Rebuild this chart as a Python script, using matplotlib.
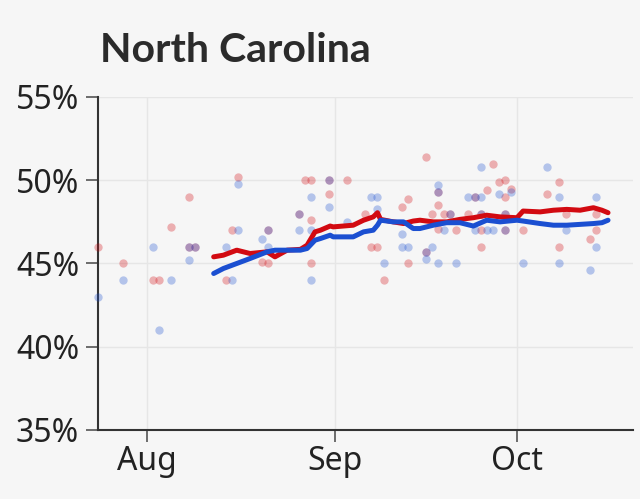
import matplotlib
matplotlib.use("Agg")
import matplotlib.pyplot as plt
import numpy as np

# days are offsets from 1 Aug
title = "North Carolina"
month_ticks = [0, 31, 61]
month_labels = ["Aug", "Sep", "Oct"]
y_ticks = [35, 40, 45, 50, 55]

red_poll_days = [-8, -4, 1, 2, 4, 7, 7, 8, 13, 14, 15, 19, 20, 20, 25, 26, 27, 27, 27,
                 30, 30, 33, 36, 37, 38, 39, 42, 43, 43, 46, 46, 47, 48, 48, 48, 49, 50,
                 51, 53, 54, 55, 55, 55, 56, 57, 58, 59, 59, 59, 59, 60, 62, 66, 68, 68,
                 69, 73, 74, 74]
red_poll_vals = [46, 45, 44, 44, 47.2, 49, 46, 46, 44, 47, 50.2, 45.1, 45, 47, 48, 50, 50, 47.6, 45,
                 50, 49.2, 50, 48, 46, 46, 44, 48.4, 48.9, 45, 51.4, 45.7, 48, 49.3, 48.5, 47.1, 48, 48,
                 47, 48, 49, 48, 47, 46, 49.4, 51, 49.9, 50, 49, 48, 47, 49.5, 47, 49.2, 49.9, 46,
                 48, 46.5, 48, 47]

blue_poll_days = [-8, -4, 1, 2, 4, 7, 7, 8, 13, 14, 15, 15, 19, 20, 20, 25, 25, 27, 27, 27,
                  30, 30, 33, 37, 38, 38, 39, 42, 42, 43, 46, 46, 47, 48, 48, 48, 49, 50, 51,
                  53, 54, 54, 55, 55, 55, 56, 57, 58, 59, 59, 60, 62, 66, 68, 68, 69, 73, 74, 74]
blue_poll_vals = [43, 44, 46, 41, 44, 46, 45.2, 46, 46, 44, 47, 49.8, 46.5, 47, 46, 48, 47, 49, 47, 44,
                  50, 48.4, 47.5, 49, 49, 48.3, 45, 46.8, 46, 46, 45.3, 45.7, 46, 49.7, 49.3, 45, 47, 48, 45,
                  49, 49, 47, 50.8, 49, 48, 47, 47, 49.2, 48, 47, 49.3, 45, 50.8, 49, 45, 47, 44.6, 49, 46]

line_days = [11, 12.6, 14.8, 17, 19.8, 21.1, 23.1, 25.3, 26.4, 27.7, 28.6, 30.2, 30.7, 34, 35.7,
             37.3, 38, 38.5, 40.6, 42.3, 43.9, 45, 47.2, 49.4, 51.6, 53.8, 56, 58.2, 61, 62,
             64.8, 67, 69.2, 71.4, 73.6, 75, 76]
red_line = [45.4, 45.5, 45.8, 45.6, 45.7, 45.4, 45.8, 45.85, 46.1, 46.9, 47.0, 47.25, 47.2, 47.3, 47.6,
            47.8, 48.05, 47.65, 47.5, 47.4, 47.55, 47.6, 47.5, 47.5, 47.65, 47.75, 47.9, 47.8, 47.75, 48.15,
            48.1, 48.2, 48.25, 48.2, 48.35, 48.2, 48.05]
blue_line = [44.4, 44.7, 45.0, 45.3, 45.7, 45.8, 45.8, 45.8, 45.9, 46.4, 46.5, 46.7, 46.6, 46.6, 46.9,
             47.0, 47.3, 47.6, 47.5, 47.5, 47.1, 47.1, 47.3, 47.45, 47.45, 47.25, 47.6, 47.5, 47.6, 47.55,
             47.4, 47.3, 47.3, 47.35, 47.4, 47.45, 47.6]

BG = "#f6f6f6"
RED = "#d20a11"
BLUE = "#1b4fd1"
TXT = "#222222"

plt.rcParams['font.family'] = ['Noto Sans', 'DejaVu Sans']

fig = plt.figure(figsize=(6.4, 4.99), dpi=100, facecolor=BG)
ax = fig.add_axes([98/640, 1-430/499, (632.7-98)/640, (430-97)/499])
ax.set_facecolor(BG)

ax.scatter(red_poll_days, red_poll_vals, s=36, color=RED, alpha=0.3, linewidths=0,
           zorder=3, clip_on=False)
ax.scatter(blue_poll_days, blue_poll_vals, s=36, color=BLUE, alpha=0.3, linewidths=0,
           zorder=3, clip_on=False)
ax.plot(line_days, red_line, color=RED, lw=3.6, solid_capstyle='round', solid_joinstyle='round', zorder=4)
ax.plot(line_days, blue_line, color=BLUE, lw=3.6, solid_capstyle='round', solid_joinstyle='round', zorder=5)

ax.set_xlim(-8.07, 80.07)
ax.set_ylim(35, 55)
ax.set_xticks(month_ticks)
ax.set_xticklabels(month_labels)
ax.set_yticks(y_ticks)
ax.set_yticklabels([f"{v}%" for v in y_ticks])

ax.grid(True, color="#e6e6e6", lw=1, zorder=0)
ax.set_axisbelow(True)
for s in ["top", "right"]:
    ax.spines[s].set_visible(False)
for s in ["left", "bottom"]:
    ax.spines[s].set_color("#333333")
    ax.spines[s].set_linewidth(1.5)
ax.tick_params(axis='both', colors="#555555", width=1.2, length=8.5, labelsize=23,
               labelcolor=TXT)
ax.tick_params(axis='y', pad=5)
ax.tick_params(axis='x', pad=2)

fig.text(100/640, 1-62/499, title, fontsize=29.5, fontweight='bold', color="#2b2b2b",
         ha='left', va='baseline', family=['Lato', 'DejaVu Sans'])

fig.savefig("out.png", dpi=100, facecolor=BG)
